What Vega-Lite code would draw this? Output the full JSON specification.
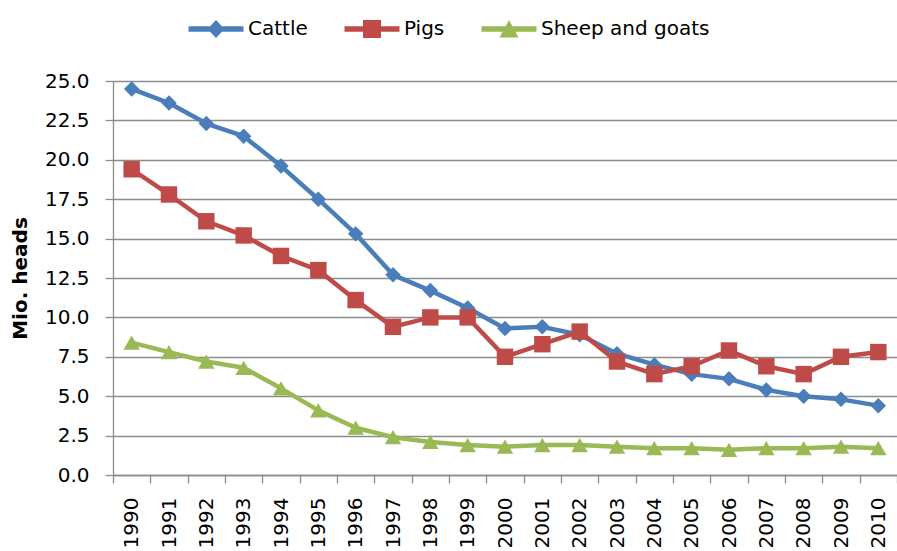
{
  "$schema": "https://vega.github.io/schema/vega-lite/v6.json",
  "autosize": "none",
  "width": 784,
  "height": 394,
  "padding": {"left": 113, "top": 81, "right": 0, "bottom": 76},
  "background": "white",
  "config": {
    "view": {"stroke": null},
    "font": "DejaVu Sans"
  },
  "data": {"values": [
    {"year":"1990","series":"Cattle","value":24.5},{"year":"1991","series":"Cattle","value":23.6},{"year":"1992","series":"Cattle","value":22.3},{"year":"1993","series":"Cattle","value":21.5},{"year":"1994","series":"Cattle","value":19.6},{"year":"1995","series":"Cattle","value":17.5},{"year":"1996","series":"Cattle","value":15.3},{"year":"1997","series":"Cattle","value":12.7},{"year":"1998","series":"Cattle","value":11.7},{"year":"1999","series":"Cattle","value":10.6},{"year":"2000","series":"Cattle","value":9.3},{"year":"2001","series":"Cattle","value":9.4},{"year":"2002","series":"Cattle","value":8.9},{"year":"2003","series":"Cattle","value":7.7},{"year":"2004","series":"Cattle","value":7.0},{"year":"2005","series":"Cattle","value":6.4},{"year":"2006","series":"Cattle","value":6.1},{"year":"2007","series":"Cattle","value":5.4},{"year":"2008","series":"Cattle","value":5.0},{"year":"2009","series":"Cattle","value":4.8},{"year":"2010","series":"Cattle","value":4.4},
    {"year":"1990","series":"Pigs","value":19.4},{"year":"1991","series":"Pigs","value":17.8},{"year":"1992","series":"Pigs","value":16.1},{"year":"1993","series":"Pigs","value":15.2},{"year":"1994","series":"Pigs","value":13.9},{"year":"1995","series":"Pigs","value":13.0},{"year":"1996","series":"Pigs","value":11.1},{"year":"1997","series":"Pigs","value":9.4},{"year":"1998","series":"Pigs","value":10.0},{"year":"1999","series":"Pigs","value":10.0},{"year":"2000","series":"Pigs","value":7.5},{"year":"2001","series":"Pigs","value":8.3},{"year":"2002","series":"Pigs","value":9.1},{"year":"2003","series":"Pigs","value":7.2},{"year":"2004","series":"Pigs","value":6.4},{"year":"2005","series":"Pigs","value":6.9},{"year":"2006","series":"Pigs","value":7.9},{"year":"2007","series":"Pigs","value":6.9},{"year":"2008","series":"Pigs","value":6.4},{"year":"2009","series":"Pigs","value":7.5},{"year":"2010","series":"Pigs","value":7.8},
    {"year":"1990","series":"Sheep and goats","value":8.4},{"year":"1991","series":"Sheep and goats","value":7.8},{"year":"1992","series":"Sheep and goats","value":7.2},{"year":"1993","series":"Sheep and goats","value":6.8},{"year":"1994","series":"Sheep and goats","value":5.5},{"year":"1995","series":"Sheep and goats","value":4.1},{"year":"1996","series":"Sheep and goats","value":3.0},{"year":"1997","series":"Sheep and goats","value":2.4},{"year":"1998","series":"Sheep and goats","value":2.1},{"year":"1999","series":"Sheep and goats","value":1.9},{"year":"2000","series":"Sheep and goats","value":1.8},{"year":"2001","series":"Sheep and goats","value":1.9},{"year":"2002","series":"Sheep and goats","value":1.9},{"year":"2003","series":"Sheep and goats","value":1.8},{"year":"2004","series":"Sheep and goats","value":1.7},{"year":"2005","series":"Sheep and goats","value":1.7},{"year":"2006","series":"Sheep and goats","value":1.6},{"year":"2007","series":"Sheep and goats","value":1.7},{"year":"2008","series":"Sheep and goats","value":1.7},{"year":"2009","series":"Sheep and goats","value":1.8},{"year":"2010","series":"Sheep and goats","value":1.7}
  ]},
  "encoding": {
    "x": {
      "field": "year", "type": "nominal",
      "scale": {"type": "band", "paddingInner": 0, "paddingOuter": 0},
      "axis": {
        "title": null, "labelAngle": -90, "labelAlign": "right", "labelBaseline": "middle",
        "labelFontSize": 20, "labelColor": "#000000", "labelPadding": 14,
        "tickBand": "extent", "tickSize": 8, "tickColor": "#8c8c8c", "tickWidth": 1.3,
        "domainColor": "#8c8c8c", "domainWidth": 1.3, "grid": false
      }
    },
    "y": {
      "field": "value", "type": "quantitative",
      "scale": {"domain": [0, 25], "nice": false, "zero": true},
      "axis": {
        "title": "Mio. heads", "titleFontSize": 20, "titleFontWeight": "bold", "titleColor": "#000000", "titlePadding": 14,
        "values": [0, 2.5, 5, 7.5, 10, 12.5, 15, 17.5, 20, 22.5, 25], "format": ".1f",
        "labelFontSize": 20, "labelColor": "#000000", "labelPadding": 16,
        "tickSize": 8, "tickColor": "#8c8c8c", "tickWidth": 1.3,
        "domainColor": "#8c8c8c", "domainWidth": 1.3,
        "grid": true, "gridColor": "#8c8c8c", "gridWidth": 1.3
      }
    },
    "color": {
      "field": "series", "type": "nominal",
      "scale": {"domain": ["Cattle", "Pigs", "Sheep and goats"], "range": ["#4A7EBB", "#BE4B48", "#98B954"]},
      "legend": null
    }
  },
  "resolve": {"legend": {"color": "independent", "shape": "independent"}},
  "layer": [
    {
      "mark": {"type": "line", "strokeWidth": 4.5, "strokeJoin": "round"}
    },
    {
      "transform": [{"filter": "datum.series === 'Cattle'"}],
      "mark": {"type": "point", "shape": "diamond", "filled": true, "size": 240, "opacity": 1}
    },
    {
      "transform": [{"filter": "datum.series === 'Pigs'"}],
      "mark": {"type": "point", "shape": "square", "filled": true, "size": 270, "opacity": 1}
    },
    {
      "transform": [{"filter": "datum.series === 'Sheep and goats'"}],
      "mark": {"type": "point", "shape": "triangle-up", "filled": true, "size": 270, "opacity": 1}
    },
    {
      "mark": {"type": "point", "filled": true, "size": 0},
      "encoding": {
        "color": {
          "field": "series", "type": "nominal",
          "legend": {
            "orient": "none", "legendX": 93, "legendY": -62, "direction": "horizontal", "title": null,
            "symbolSize": 400, "labelOffset": 22, "columnPadding": 36, "padding": 0, "gridAlign": "none", "labelLimit": 400,
            "labelFontSize": 20, "labelFont": "DejaVu Sans", "labelColor": "#000000",
            "symbolStrokeWidth": 0, "symbolOpacity": 1,
            "encode": {"symbols": {"update": {"opacity": {"value": 1}, "size": {"value": 400}}}}
          }
        },
        "shape": {
          "field": "series", "type": "nominal",
          "scale": {
            "domain": ["Cattle", "Pigs", "Sheep and goats"],
            "range": [
              "M-2.75,-0.27L2.75,-0.27L2.75,0.27L-2.75,0.27ZM0,-0.9L0.85,0L0,0.9L-0.85,0Z",
              "M-2.75,-0.27L2.75,-0.27L2.75,0.27L-2.75,0.27ZM-0.9,-0.9L0.9,-0.9L0.9,0.9L-0.9,0.9Z",
              "M-2.75,-0.27L2.75,-0.27L2.75,0.27L-2.75,0.27ZM0,-0.9L0.95,0.85L-0.95,0.85Z"
            ]
          },
          "legend": {
            "orient": "none", "legendX": 93, "legendY": -62, "direction": "horizontal", "title": null,
            "symbolSize": 400, "labelOffset": 22, "columnPadding": 36, "padding": 0, "gridAlign": "none", "labelLimit": 400,
            "labelFontSize": 20, "labelFont": "DejaVu Sans", "labelColor": "#000000",
            "symbolStrokeWidth": 0, "symbolOpacity": 1,
            "encode": {"symbols": {"update": {"opacity": {"value": 1}, "size": {"value": 400}}}}
          }
        }
      }
    }
  ]
}
